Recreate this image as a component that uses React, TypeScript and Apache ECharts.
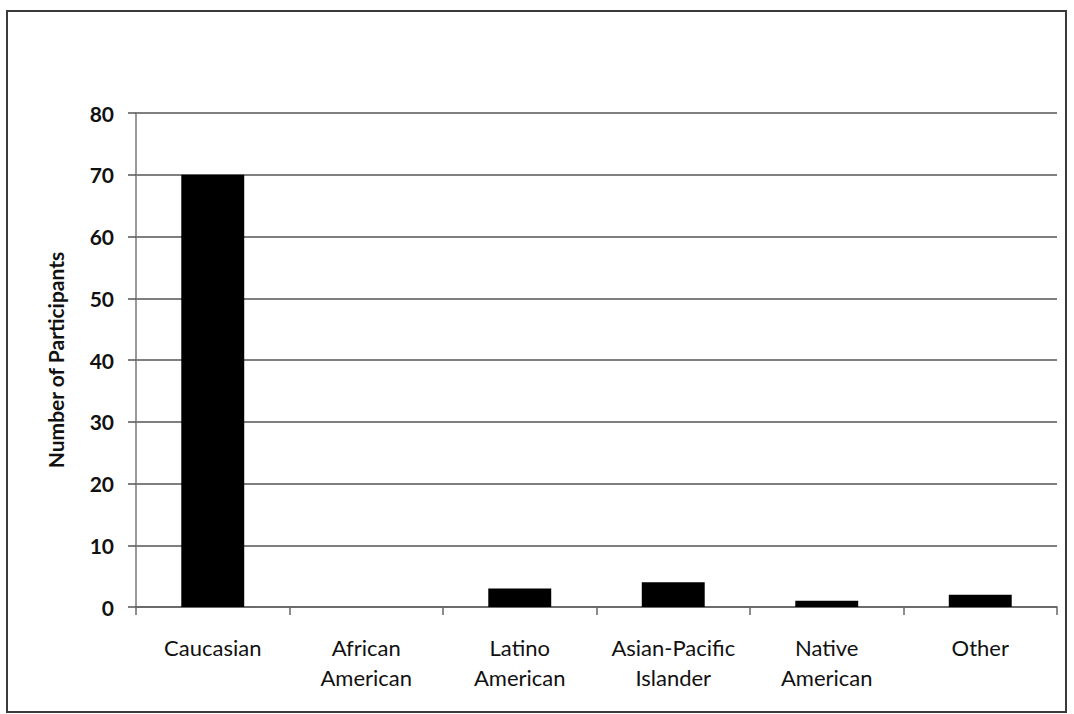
import React, { useEffect, useRef } from "react";
import * as echarts from "echarts";

const categories = [
  "Caucasian",
  "African\nAmerican",
  "Latino\nAmerican",
  "Asian-Pacific\nIslander",
  "Native\nAmerican",
  "Other",
];
const participants = [70, 0, 3, 4, 1, 2];
const yAxisName = "Number of Participants";
const yMin = 0;
const yMax = 80;
const yInterval = 10;

const FONT = "Lato, 'Open Sans', 'Noto Sans', sans-serif";

export default function App() {
  const ref = useRef<HTMLDivElement>(null);
  useEffect(() => {
    if (!ref.current) return;
    const chart = echarts.init(ref.current, undefined, { renderer: "svg" });
    chart.setOption({
      animation: false,
      backgroundColor: "#ffffff",
      textStyle: { fontFamily: FONT },
      graphic: [
        {
          type: "rect",
          shape: { x: 7, y: 11, width: 1059, height: 701 },
          style: { fill: "none", stroke: "#3a3a3a", lineWidth: 2 },
          silent: true,
        },
      ],
      grid: { left: 136, right: 17, top: 113, bottom: 107, containLabel: false },
      xAxis: {
        type: "category",
        data: categories,
        axisLine: { show: true, lineStyle: { color: "#666", width: 1.5 } },
        axisTick: { show: true, alignWithLabel: false, length: 8, lineStyle: { color: "#666", width: 1.5 } },
        axisLabel: {
          color: "#111",
          fontSize: 22,
          lineHeight: 30,
          margin: 25,
          fontFamily: FONT,
          interval: 0,
        },
        splitLine: { show: false },
      },
      yAxis: {
        type: "value",
        min: yMin,
        max: yMax,
        interval: yInterval,
        name: yAxisName,
        nameLocation: "middle",
        nameGap: 70,
        nameTextStyle: { color: "#111", fontSize: 21, fontWeight: "bold", fontFamily: FONT },
        axisLine: { show: true, lineStyle: { color: "#777", width: 1.5 } },
        axisTick: { show: true, inside: false, length: 8, lineStyle: { color: "#555", width: 1.5 } },
        axisLabel: { color: "#111", fontSize: 21, margin: 22, fontFamily: FONT, fontWeight: "bold" },
        splitLine: { show: true, lineStyle: { color: "#555", width: 1.5 } },
      },
      series: [
        {
          type: "bar",
          data: participants,
          barWidth: "41%",
          itemStyle: { color: "#000000" },
        },
      ],
    });
    return () => chart.dispose();
  }, []);
  return (
    <div
      ref={ref}
      style={{ position: "absolute", left: 0, top: 0, width: 1074, height: 714 }}
    />
  );
}
